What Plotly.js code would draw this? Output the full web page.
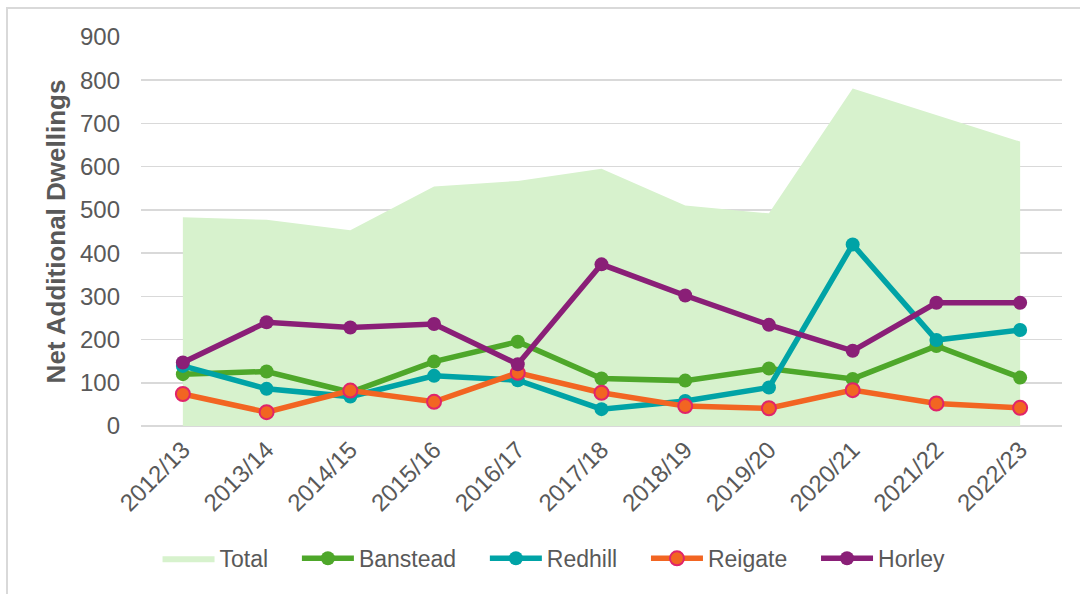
<!DOCTYPE html>
<html>
<head>
<meta charset="utf-8">
<script src="https://cdn.plot.ly/plotly-3.0.1.min.js"></script>
<style>
html,body{margin:0;padding:0;background:#fff;}
#frame{position:absolute;left:6px;top:7px;width:1100px;height:620px;border:2px solid #d9d9d9;box-sizing:border-box;}
#chart{position:absolute;left:0;top:0;width:1080px;height:594px;}
</style>
</head>
<body>
<div id="frame"></div>
<div id="chart"></div>
<script>
const years = ["2012/13","2013/14","2014/15","2015/16","2016/17","2017/18","2018/19","2019/20","2020/21","2021/22","2022/23"];
const total    = [483, 477, 453, 554, 567, 595, 510, 492, 781, 720, 658];
const banstead = [120, 126, 78, 149, 195, 110, 105, 133, 109, 185, 112];
const redhill  = [139, 86, 68, 116, 106, 39, 58, 89, 420, 199, 222];
const reigate  = [74, 32, 82, 56, 123, 77, 46, 41, 83, 52, 42];
const horley   = [147, 240, 228, 236, 143, 374, 302, 234, 174, 285, 285];
const seriesNames = ["Total", "Banstead", "Redhill", "Reigate", "Horley"];

const pad = '\u00a0\u00a0\u00a0\u2009';
function lineTrace(name, y, color, mline) {
  return {
    type: 'scatter', mode: 'lines+markers', name: name, x: years, y: y,
    line: {color: color, width: 5.5},
    marker: {color: color, size: 14, line: mline || {width: 0}}
  };
}

const data = [
  {type:'scatter', mode:'lines', name: seriesNames[0] + pad, x: years, y: total, fill:'tozeroy',
   fillcolor:'#d7f2cd', line:{width:0, color:'#d7f2cd'}},
  lineTrace(seriesNames[1] + pad, banstead, '#4ea72a'),
  lineTrace(seriesNames[2] + pad, redhill, '#00a3a6'),
  lineTrace(seriesNames[3] + pad, reigate, '#f26522', {color:'#e0246a', width:2}),
  lineTrace(seriesNames[4], horley, '#8a1f77')
];

const layout = {
  width:1080, height:594,
  margin:{l:141, r:18, t:37, b:168},
  paper_bgcolor:'rgba(0,0,0,0)', plot_bgcolor:'rgba(0,0,0,0)',
  font:{family:'Liberation Sans, Arial, sans-serif', color:'#595959', size:23},
  showlegend:true,
  legend:{orientation:'h', x:0.513, xanchor:'center', xref:'container', y:0.06, yanchor:'middle', yref:'container',
          font:{size:23, color:'#595959'}, itemwidth:52, traceorder:'normal'},
  xaxis:{type:'category', range:[-0.5,10.5], tickangle:-45, showgrid:false, showline:false, zeroline:false,
         ticks:'', tickfont:{size:24, color:'#595959'}, ticklabelstandoff:4, fixedrange:true},
  yaxis:{range:[0,900], dtick:100, showgrid:true, gridcolor:'#d9d9d9', gridwidth:1.5, zeroline:true,
         zerolinecolor:'#d9d9d9', zerolinewidth:1.5, showline:false, ticks:'', ticklabelstandoff:20,
         tickfont:{size:24, color:'#595959'},
         title:{text:'<b>Net Additional Dwellings</b>', font:{size:26, color:'#595959'}, standoff:6}}
};
Plotly.newPlot('chart', data, layout, {displayModeBar:false, staticPlot:true});
</script>
</body>
</html>
